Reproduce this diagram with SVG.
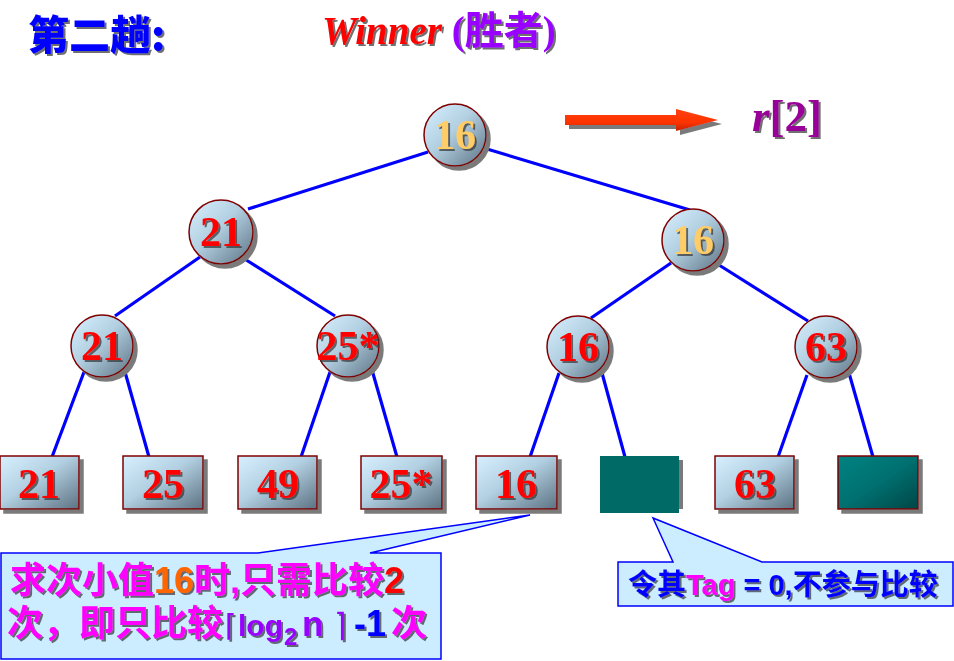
<svg xmlns="http://www.w3.org/2000/svg" width="954" height="661" viewBox="0 0 954 661">
<defs>
  <linearGradient id="nodeGrad" x1="0" y1="0" x2="1" y2="1">
    <stop offset="0" stop-color="#D8F0FE"/>
    <stop offset="0.45" stop-color="#B2D0E2"/>
    <stop offset="1" stop-color="#5C7282"/>
  </linearGradient>
  <linearGradient id="tealGrad" x1="0" y1="0" x2="1" y2="1">
    <stop offset="0" stop-color="#008282"/>
    <stop offset="0.5" stop-color="#007070"/>
    <stop offset="1" stop-color="#004646"/>
  </linearGradient>
  <linearGradient id="arrowGrad" x1="0" y1="0" x2="0" y2="1">
    <stop offset="0" stop-color="#FF4010"/>
    <stop offset="0.6" stop-color="#FF3300"/>
    <stop offset="1" stop-color="#C42400"/>
  </linearGradient>
  <filter id="ns" x="-20%" y="-20%" width="150%" height="150%">
    <feDropShadow dx="4" dy="4" stdDeviation="0.6" flood-color="#7a7a7a" flood-opacity="1"/>
  </filter>
  <filter id="ts" x="-10%" y="-10%" width="130%" height="140%">
    <feDropShadow dx="2" dy="2" stdDeviation="0.4" flood-color="#303030" flood-opacity="0.7"/>
  </filter>
  <style>
    .edge { stroke: #0000FF; stroke-width: 3.2; fill: none; stroke-linecap: butt; }
    .circ { fill: url(#nodeGrad); stroke: #800000; stroke-width: 1.5; filter: url(#ns); }
    .box { fill: url(#nodeGrad); stroke: #800000; stroke-width: 1.5; filter: url(#ns); }
    .num { font-family: "Liberation Serif", "Times New Roman", serif; font-weight: bold; font-size: 42px; text-anchor: middle; fill: #FF0000; filter: url(#ts); }
    .gold { fill: #FFCC66; }
    .cjk { font-family: "Liberation Sans", "Noto Sans CJK SC", sans-serif; font-weight: bold; filter: url(#ts); }
    .callout { fill: #CCECFF; stroke: #0000FF; stroke-width: 1.5; }
  </style>
</defs>
<rect width="954" height="661" fill="#FFFFFF"/>

<g id="title">
  <text x="28" y="50" font-family="'Noto Sans CJK SC', sans-serif" font-weight="900" font-size="41" fill="#0000FF" filter="url(#ts)">第二趟:</text>
  <text x="322" y="44" font-family="'Liberation Serif', 'Noto Sans CJK SC', serif" font-weight="bold" font-size="39" filter="url(#ts)"><tspan fill="#FF0000" font-style="italic">Winner</tspan><tspan fill="#9900FF"> (胜者)</tspan></text>
</g>

<g id="arrow">
  <polygon points="565,115 676,115 676,109 718,120 676,131 676,125 565,125" fill="url(#arrowGrad)" filter="url(#ns)"/>
</g>

<g id="r2">
  <text x="752" y="131" font-family="'Liberation Serif', serif" font-weight="bold" font-size="45" fill="#990099" filter="url(#ts)"><tspan font-style="italic">r</tspan>[2]</text>
</g>

<g id="connectors">
  <line class="edge" x1="248" y1="209" x2="428" y2="152"/>
  <line class="edge" x1="487" y1="149" x2="690" y2="210"/>
  <line class="edge" x1="200" y1="257" x2="115" y2="316"/>
  <line class="edge" x1="243" y1="258" x2="335" y2="316"/>
  <line class="edge" x1="671" y1="263" x2="591" y2="318"/>
  <line class="edge" x1="719" y1="265" x2="808" y2="321"/>
  <line class="edge" x1="84" y1="372" x2="52" y2="457"/>
  <line class="edge" x1="125" y1="372" x2="149" y2="457"/>
  <line class="edge" x1="330" y1="372" x2="301" y2="457"/>
  <line class="edge" x1="372" y1="370" x2="397" y2="457"/>
  <line class="edge" x1="559" y1="373" x2="530" y2="457"/>
  <line class="edge" x1="602" y1="373" x2="625" y2="457"/>
  <line class="edge" x1="807" y1="375" x2="778" y2="457"/>
  <line class="edge" x1="849" y1="373" x2="873" y2="457"/>
</g>

<g id="n_root"><circle class="circ" cx="455" cy="135" r="31"/><text class="num gold" x="455" y="149">16</text></g>
<g id="n_l2a"><circle class="circ" cx="221" cy="232" r="32"/><text class="num" x="221" y="246">21</text></g>
<g id="n_l2b"><circle class="circ" cx="693" cy="240" r="31"/><text class="num gold" x="693" y="254">16</text></g>
<g id="n_l3a"><circle class="circ" cx="102" cy="346" r="31"/><text class="num" x="102" y="360">21</text></g>
<g id="n_l3b"><circle class="circ" cx="348" cy="346" r="31"/><text class="num" x="348" y="360">25*</text></g>
<g id="n_l3c"><circle class="circ" cx="578" cy="347" r="31"/><text class="num" x="578" y="361">16</text></g>
<g id="n_l3d"><circle class="circ" cx="826" cy="347" r="31"/><text class="num" x="826" y="361">63</text></g>

<g id="leaf1"><rect class="box" x="0" y="456" width="79" height="53"/><text class="num" x="39" y="498">21</text></g>
<g id="leaf2"><rect class="box" x="123" y="456" width="80" height="53"/><text class="num" x="163" y="498">25</text></g>
<g id="leaf3"><rect class="box" x="238" y="456" width="79" height="53"/><text class="num" x="278" y="498">49</text></g>
<g id="leaf4"><rect class="box" x="361" y="456" width="81" height="53"/><text class="num" x="401" y="498">25*</text></g>
<g id="leaf5"><rect class="box" x="476" y="456" width="81" height="53"/><text class="num" x="516" y="498">16</text></g>
<g id="leaf6"><rect x="679" y="460" width="4" height="49" fill="#7a7a7a"/><rect x="600" y="456" width="79" height="57" fill="#006B66"/></g>
<g id="leaf7"><rect class="box" x="715" y="456" width="79" height="53"/><text class="num" x="755" y="498">63</text></g>
<g id="leaf8"><rect x="838" y="456" width="80" height="53" fill="url(#tealGrad)" stroke="#800000" stroke-width="1.5" filter="url(#ns)"/></g>

<g id="callout1">
  <path class="callout" d="M1,553 L258,553 L530,515 L370,553 L441,553 L441,659 L1,659 Z"/>
  <text class="cjk" y="593" font-size="36">
    <tspan x="10" fill="#FF00FF">求次小值</tspan><tspan fill="#FF6600">16</tspan><tspan fill="#FF00FF">时,只需比较</tspan><tspan fill="#FF0000">2</tspan>
  </text>
  <text class="cjk" y="636" font-size="36">
    <tspan x="7" fill="#FF00FF">次，即只比较</tspan><tspan x="225" font-size="30" fill="#9900FF" font-family="'DejaVu Sans', sans-serif" font-weight="normal">⌈</tspan><tspan x="238" font-size="30" fill="#9900FF">log</tspan><tspan x="284" y="645" font-size="24" fill="#9900FF">2</tspan><tspan x="302" y="636" font-size="35" fill="#9900FF">n</tspan><tspan x="334" font-size="32" fill="#9900FF" font-family="'DejaVu Sans', sans-serif" font-weight="normal">⌉</tspan><tspan x="354" fill="#0000FF">-1</tspan><tspan x="391" fill="#FF00FF">次</tspan>
  </text>
</g>

<g id="callout2">
  <path class="callout" d="M618,562 L673,562 L653,518 L762,562 L953,562 L953,606 L618,606 Z"/>
  <text class="cjk" x="628" y="595" font-size="29" fill="#0000FF">令其<tspan fill="#FF00FF">Tag</tspan> = 0,不参与比较</text>
</g>
</svg>
